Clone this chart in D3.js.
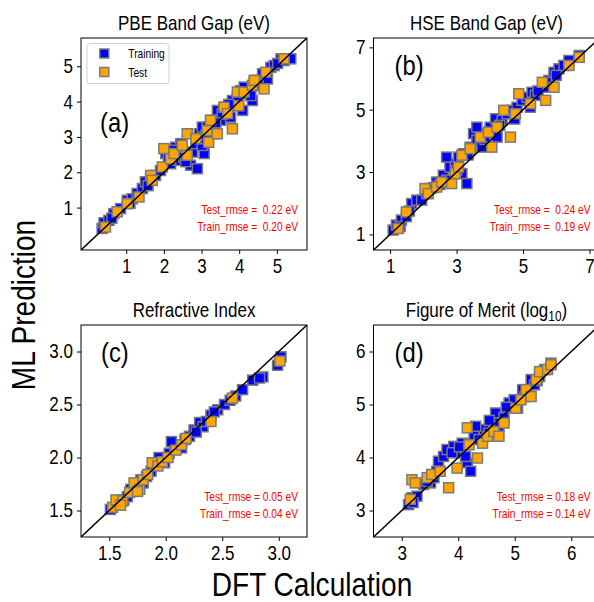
<!DOCTYPE html>
<html>
<head>
<meta charset="utf-8">
<script src="https://cdn.jsdelivr.net/npm/d3@7"></script>
<style>
  body { margin: 0; background: #fff; }
  svg { display: block; }
  text { font-family: "Liberation Sans", Arial, sans-serif; }
</style>
</head>
<body>
<div id="chart"></div>
<script>
// values: [DFT, ML]
var pbeTrain = [[0.36,0.41],[0.41,0.57],[0.54,0.64],[0.67,0.83],[0.85,0.97],[1.03,1.21],[1.16,1.25],[1.29,1.40],
  [1.43,1.54],[1.51,1.73],[1.65,1.87],[1.78,1.91],[1.91,2.05],[2.05,2.53],[2.18,2.24],[2.31,2.71],[2.45,2.81],
  [2.36,2.34],[2.53,2.43],[2.62,2.57],[2.71,2.20],[2.89,2.10],[2.76,2.57],[2.85,2.81],[2.94,3.09],[3.02,3.28],
  [3.07,2.53],[3.02,2.76],[3.15,3.28],[3.24,3.47],[3.33,3.09],[3.42,3.75],[3.51,3.47],[3.60,3.84],[3.69,3.66],
  [3.77,3.56],[3.82,4.03],[3.95,4.13],[4.04,4.31],[4.13,4.41],[4.35,4.03],[4.40,4.55],[4.44,4.60],[4.62,4.79],
  [4.75,4.64],[4.84,4.97],[4.93,5.02],[5.11,5.21],[5.37,5.21],[5.19,5.16],[4.09,3.75],[4.22,4.22],[4.31,4.17],
  [0.62,0.70],[1.10,1.12],[1.58,1.62],[2.12,2.40],[2.25,2.62],[2.58,2.30],[2.97,2.95],[3.12,3.05],[3.55,3.65],
  [3.38,3.40],[3.72,3.92],[4.50,4.45],[5.02,5.08]];
var pbeTest = [[0.45,0.45],[0.76,0.88],[1.03,1.11],[1.34,1.30],[1.65,1.91],[1.69,1.77],[1.96,2.15],[2.00,2.67],
  [2.18,2.38],[2.27,2.53],[2.49,2.76],[2.62,3.09],[2.62,2.48],[2.85,2.95],[3.15,3.18],[3.24,3.47],[3.19,2.85],
  [3.42,3.09],[3.60,3.84],[3.82,3.23],[3.69,3.66],[3.95,4.27],[3.99,3.88],[4.13,4.27],[4.35,4.46],[4.40,4.60],
  [4.66,4.36],[4.71,4.83],[5.19,5.21]];

var hseTrain = [[1.09,1.14],[1.19,1.30],[1.34,1.46],[1.49,1.57],[1.65,1.99],[1.80,2.10],[1.95,2.10],[2.10,2.31],
  [2.20,2.47],[2.40,2.68],[2.60,2.90],[2.70,2.74],[2.80,3.16],[2.96,3.27],[3.06,3.48],[3.16,2.95],[3.31,2.63],
  [3.21,3.59],[3.41,3.80],[3.51,4.23],[3.61,4.02],[3.76,3.80],[3.91,4.23],[4.01,4.44],[4.17,4.71],[4.22,4.12],
  [4.37,4.66],[4.52,4.87],[4.67,4.98],[4.82,5.08],[4.97,5.30],[5.12,5.40],[5.27,5.56],[5.37,5.46],[5.63,5.72],
  [5.78,5.94],[5.93,6.20],[6.08,6.31],[6.23,6.42],[6.38,6.58],[6.69,6.74],[2.70,3.48],[3.61,4.44],[5.22,5.08],
  [1.30,1.25],[1.58,1.75],[2.30,2.50],[2.50,2.60],[3.00,3.05],[3.35,3.55],[3.85,4.05],[4.30,4.50],[4.75,4.70],
  [5.45,5.60],[6.00,6.10]];
var hseTest = [[1.24,1.19],[1.49,1.72],[2.05,2.47],[2.15,2.31],[2.40,2.52],[2.55,2.68],[2.85,2.63],[2.96,2.95],
  [3.16,3.54],[3.06,3.16],[3.41,3.75],[3.71,4.12],[3.96,4.28],[4.06,3.80],[4.22,4.44],[4.42,4.98],[4.62,4.12],
  [4.77,4.87],[4.87,5.51],[5.22,5.19],[5.58,5.88],[5.68,5.30],[5.93,5.72],[6.38,6.42],[6.69,6.68]];

var refTrain = [[1.51,1.51],[1.57,1.57],[1.63,1.60],[1.69,1.70],[1.74,1.73],[1.78,1.79],[1.83,1.82],[1.87,1.87],
  [1.91,1.93],[1.94,2.00],[1.99,1.95],[2.03,2.04],[2.08,2.11],[2.11,2.12],[2.17,2.17],[2.21,2.20],[2.25,2.26],
  [2.30,2.33],[2.33,2.29],[2.36,2.34],[2.40,2.40],[2.46,2.45],[2.52,2.50],[2.57,2.54],[2.62,2.58],[2.68,2.64],
  [2.77,2.73],[2.86,2.76],[2.83,2.75],[3.02,2.95],[2.99,2.87],[2.05,2.15],[2.14,2.09],[1.66,1.63],[1.80,1.76],
  [2.27,2.24],[2.43,2.43]];
var refTest = [[1.53,1.53],[1.56,1.60],[1.62,1.59],[1.68,1.67],[1.72,1.76],[1.77,1.70],[1.80,1.79],[1.84,1.84],
  [1.88,1.95],[1.93,1.92],[1.97,1.96],[2.02,2.00],[2.09,2.07],[2.14,2.12],[2.18,2.18],[2.40,2.34],[2.59,2.56],
  [3.01,2.91],[1.60,1.55],[1.75,1.68]];

var fomTrain = [[3.12,3.11],[3.18,3.24],[3.27,3.27],[3.39,3.49],[3.51,3.52],[3.62,3.74],[3.65,3.93],[3.74,4.02],
  [3.80,4.15],[3.92,4.21],[3.98,4.09],[4.07,4.27],[4.16,3.90],[4.22,3.74],[4.13,4.02],[4.28,4.40],[4.37,4.34],
  [4.46,4.53],[4.54,4.46],[4.63,4.65],[4.66,4.84],[4.72,4.59],[4.81,4.75],[4.90,5.03],[4.99,5.09],[5.05,4.93],
  [5.14,5.28],[5.23,5.22],[5.29,5.47],[5.35,5.37],[5.44,5.53],[5.53,5.66],[5.64,5.78],[4.31,4.59],[3.89,4.09],
  [3.20,3.15],[3.45,3.55],[3.57,3.62],[4.02,4.20],[4.55,4.70],[4.85,4.95],[5.18,5.15],[5.40,5.45]];
var fomTest = [[3.15,3.21],[3.18,3.58],[3.24,3.52],[3.45,3.62],[3.53,3.68],[3.68,3.74],[3.83,3.43],[3.98,3.80],
  [4.19,4.24],[4.34,3.99],[4.43,4.27],[4.52,4.40],[4.63,4.49],[4.72,4.40],[4.81,4.65],[5.02,4.93],[5.11,5.09],
  [5.20,5.28],[5.29,5.15],[5.38,5.47],[5.44,5.62],[5.58,5.66],[5.64,5.75],[4.16,4.56]];

var titles = ["PBE Band Gap (eV)", "HSE Band Gap (eV)", "Refractive Index", "Figure of Merit (log"];
var panelTags = ["(a)", "(b)", "(c)", "(d)"];
var testRmse = ["Test_rmse =  0.22 eV", "Test_rmse =  0.24 eV", "Test_rmse = 0.05 eV", "Test_rmse = 0.18 eV"];
var trainRmse = ["Train_rmse =  0.20 eV", "Train_rmse =  0.19 eV", "Train_rmse = 0.04 eV", "Train_rmse = 0.14 eV"];
var tickValues = [[1, 2, 3, 4, 5], [1, 3, 5, 7], [1.5, 2.0, 2.5, 3.0], [3, 4, 5, 6]];
var domains = [[-0.2, 5.8], [0.5, 7.3], [1.25, 3.25], [2.5, 6.5]];
var seriesNames = ["Training", "Test"];

var width = 594, height = 602;
var pw = 226, ph = 212;
var sx = 0.85; // the figure's font is condensed
var layout = [
  {left: 81, top: 38, tagX: 19, tagY: 94, fmt: d3.format("d")},
  {left: 373.5, top: 38, tagX: 21, tagY: 37, fmt: d3.format("d")},
  {left: 81, top: 325, tagX: 20, tagY: 37, fmt: d3.format(".1f")},
  {left: 373.5, top: 325, tagX: 21, tagY: 37, fmt: d3.format("d")}
];
var trainColor = "#0000ff", testColor = "#ffa500", edgeColor = "#7a7a7a";
var msize = 10;

function addText(parent, x, y, size, str, anchor) {
  return parent.append("text")
    .attr("transform", "translate(" + x + "," + y + ") scale(" + sx + ",1)")
    .attr("text-anchor", anchor || "start")
    .attr("font-size", size)
    .text(str);
}

var svg = d3.select("#chart").append("svg")
    .attr("width", width)
    .attr("height", height);
svg.append("rect").attr("width", width).attr("height", height).attr("fill", "#fff");

var allData = [[pbeTrain, pbeTest], [hseTrain, hseTest], [refTrain, refTest], [fomTrain, fomTest]];

allData.forEach(function(sets, i) {
  var L = layout[i];
  var x = d3.scaleLinear().domain(domains[i]).range([0, pw]);
  var y = d3.scaleLinear().domain(domains[i]).range([ph, 0]);
  var g = svg.append("g").attr("transform", "translate(" + L.left + "," + L.top + ")");

  g.append("clipPath").attr("id", "clip" + i)
    .append("rect").attr("width", pw).attr("height", ph);

  var plot = g.append("g").attr("clip-path", "url(#clip" + i + ")");

  // training first, test on top
  sets.forEach(function(pts, k) {
    plot.selectAll(".pt" + k)
      .data(pts)
      .enter().append("rect")
      .attr("class", "pt" + k)
      .attr("x", function(d) { return x(d[0]) - msize / 2; })
      .attr("y", function(d) { return y(d[1]) - msize / 2; })
      .attr("width", msize)
      .attr("height", msize)
      .attr("fill", k === 0 ? trainColor : testColor)
      .attr("stroke", edgeColor)
      .attr("stroke-width", 1.5);
  });

  // y = x line
  plot.append("line")
    .attr("x1", x(domains[i][0])).attr("y1", y(domains[i][0]))
    .attr("x2", x(domains[i][1])).attr("y2", y(domains[i][1]))
    .attr("stroke", "#000").attr("stroke-width", 1.5);

  var xAxis = g.append("g").attr("transform", "translate(0," + ph + ")")
    .call(d3.axisBottom(x).tickValues(tickValues[i]).tickFormat(L.fmt).tickSize(4).tickPadding(5).tickSizeOuter(0));
  var yAxis = g.append("g")
    .call(d3.axisLeft(y).tickValues(tickValues[i]).tickFormat(L.fmt).tickSize(4).tickPadding(4).tickSizeOuter(0));
  [xAxis, yAxis].forEach(function(a) {
    a.select(".domain").remove();
    a.attr("font-family", null);
    a.selectAll("text").attr("font-size", 20).attr("fill", "#000")
      .attr("x", function() { return +d3.select(this).attr("x") / sx || 0; })
      .attr("transform", "scale(" + sx + ",1)");
    a.selectAll("line").attr("stroke", "#000");
  });

  g.append("rect").attr("width", pw).attr("height", ph)
    .attr("fill", "none").attr("stroke", "#000").attr("stroke-width", 1);

  var title = addText(g, pw / 2, -8, 20, titles[i], "middle");
  if (i === 3) {
    title.append("tspan").attr("font-size", 14).attr("dy", 4).text("10");
    title.append("tspan").attr("dy", -4).text(")");
  }

  addText(g, L.tagX, L.tagY, 28, panelTags[i]);

  addText(g, pw - 9, ph - 36, 12, testRmse[i], "end")
    .attr("fill", "#ff0000").style("white-space", "pre");
  addText(g, pw - 9, ph - 19, 12, trainRmse[i], "end")
    .attr("fill", "#ff0000").style("white-space", "pre");

  if (i === 0) {
    var lg = g.append("g").attr("transform", "translate(6,5.5)");
    lg.append("rect").attr("width", 82).attr("height", 40)
      .attr("rx", 3).attr("fill", "#fff").attr("fill-opacity", 0.8)
      .attr("stroke", "#d0d0d0");
    seriesNames.forEach(function(name, k) {
      lg.append("rect")
        .attr("x", 17.3 - 4.5).attr("y", 10 + k * 18.5 - 4.5)
        .attr("width", 9).attr("height", 9)
        .attr("fill", k === 0 ? trainColor : testColor)
        .attr("stroke", edgeColor).attr("stroke-width", 1.5);
      addText(lg, 41.3, 14.5 + k * 18.5, 12, name);
    });
  }
});

svg.append("text")
  .attr("transform", "translate(35,305) rotate(-90) scale(" + sx + ",1)")
  .attr("text-anchor", "middle")
  .attr("font-size", 33)
  .text("ML Prediction");

addText(svg, 312, 596, 33, "DFT Calculation", "middle");
</script>
</body>
</html>
